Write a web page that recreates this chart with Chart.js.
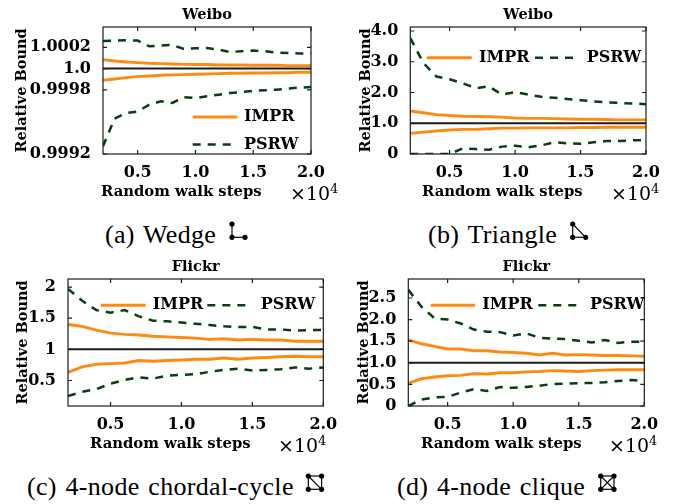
<!DOCTYPE html>
<html>
<head>
<meta charset="utf-8">
<script src="https://cdn.jsdelivr.net/npm/chart.js@4"></script>
<style>
html,body{margin:0;padding:0;background:#fff;width:690px;height:504px;overflow:hidden}
canvas{position:absolute;display:block}
.t{position:absolute;white-space:nowrap;color:#000}
.cap{font:26px "Liberation Serif","Times New Roman",serif;word-spacing:2px;letter-spacing:.3px;line-height:28px}
.exp{font:19px "DejaVu Serif",serif;line-height:20px}
.exp sup{font-size:13px;line-height:0;vertical-align:7px}
svg{position:absolute;left:0;top:0}
</style>
</head>
<body>
<canvas id="a" width="345" height="205" style="left:0;top:0"></canvas>
<canvas id="b" width="345" height="205" style="left:345px;top:0"></canvas>
<canvas id="c" width="345" height="205" style="left:0;top:252px"></canvas>
<canvas id="d" width="345" height="205" style="left:345px;top:252px"></canvas>
<div class="t exp" style="left:290px;top:183px">×10<sup>4</sup></div>
<div class="t exp" style="left:611px;top:183px">×10<sup>4</sup></div>
<div class="t exp" style="left:278px;top:435px">×10<sup>4</sup></div>
<div class="t exp" style="left:609px;top:435px">×10<sup>4</sup></div>
<div class="t cap" style="left:105px;top:221px">(a) Wedge</div>
<div class="t cap" style="left:428px;top:221px">(b) Triangle</div>
<div class="t cap" style="left:27px;top:473px">(c) 4-node chordal-cycle</div>
<div class="t cap" style="left:397px;top:473px">(d) 4-node clique</div>
<svg width="690" height="504" id="icons"></svg>
<script>
const xSteps=[0.2,0.3,0.4,0.5,0.6,0.7,0.8,0.9,1.0,1.1,1.2,1.3,1.4,1.5,1.6,1.7,1.8,1.9,2.0];
const xTicks=[0.5,1.0,1.5,2.0];
const seriesNames=["IMPR","PSRW"];
const xTitle="Random walk steps";
const yTitle="Relative Bound";

const aTitle="Weibo";
const aYTicks=[0.9992,0.9998,1.0,1.0002];
const aYLabels=["0.9992","0.9998","1.0","1.0002"];
const aImprUp=[1.000084,1.000072,1.000062,1.000056,1.00005,1.000047,1.000044,1.00004,1.000038,1.000038,1.000034,1.000034,1.000034,1.000031,1.000031,1.000031,1.000028,1.000028,1.000028];
const aImprLo=[0.999891,0.999903,0.999916,0.999925,0.999931,0.999938,0.999941,0.999944,0.999947,0.99995,0.999953,0.999956,0.999956,0.999959,0.999959,0.999962,0.999962,0.999966,0.999966];
const aPsrwUp=[1.000259,1.000263,1.000266,1.000263,1.000209,1.000216,1.000222,1.000184,1.000191,1.000194,1.000178,1.000156,1.000163,1.000169,1.000163,1.00015,1.000147,1.000141,1.000144];
const aPsrwLo=[0.999272,0.999531,0.999584,0.999597,0.999662,0.999694,0.999678,0.999731,0.999725,0.999741,0.999756,0.999772,0.999781,0.999791,0.999797,0.999803,0.999812,0.999822,0.999828];

const bTitle="Weibo";
const bYTicks=[0,1,2,3,4];
const bYLabels=["0","1.0","2.0","3.0","4.0"];
const bImprUp=[1.40,1.34,1.28,1.25,1.23,1.22,1.21,1.20,1.17,1.16,1.16,1.15,1.14,1.13,1.13,1.12,1.11,1.11,1.11];
const bImprLo=[0.67,0.71,0.75,0.78,0.80,0.80,0.82,0.84,0.84,0.85,0.85,0.85,0.85,0.86,0.86,0.87,0.87,0.87,0.87];
const bPsrwUp=[3.77,2.96,2.52,2.43,2.30,2.14,2.20,1.93,2.01,1.93,1.86,1.83,1.79,1.75,1.71,1.68,1.66,1.64,1.62];
const bPsrwLo=[0,0,0,0,0.18,0.16,0.14,0.24,0.27,0.22,0.28,0.38,0.35,0.33,0.38,0.42,0.42,0.45,0.45];

const cTitle="Flickr";
const cYTicks=[0.5,1,1.5,2];
const cYLabels=["0.5","1","1.5","2"];
const cImprUp=[1.40,1.37,1.31,1.26,1.24,1.23,1.21,1.20,1.19,1.18,1.16,1.17,1.15,1.16,1.15,1.15,1.13,1.13,1.13];
const cImprLo=[0.63,0.72,0.76,0.77,0.78,0.82,0.81,0.82,0.83,0.84,0.84,0.86,0.84,0.86,0.87,0.88,0.89,0.88,0.88];
const cPsrwUp=[1.97,1.78,1.63,1.59,1.63,1.53,1.46,1.45,1.43,1.41,1.39,1.37,1.36,1.36,1.32,1.32,1.30,1.31,1.31];
const cPsrwLo=[0.25,0.32,0.36,0.45,0.51,0.55,0.53,0.58,0.59,0.60,0.64,0.67,0.69,0.66,0.67,0.68,0.71,0.69,0.71];

const dTitle="Flickr";
const dYTicks=[0,0.5,1,1.5,2,2.5];
const dYLabels=["0","0.5","1.0","1.5","2.0","2.5"];
const dImprUp=[1.53,1.44,1.38,1.32,1.32,1.28,1.28,1.25,1.24,1.22,1.18,1.22,1.18,1.19,1.18,1.17,1.17,1.16,1.15];
const dImprLo=[0.53,0.63,0.67,0.70,0.71,0.75,0.74,0.77,0.77,0.79,0.80,0.82,0.81,0.80,0.82,0.83,0.84,0.84,0.84];
const dPsrwUp=[2.69,2.30,2.03,2.00,1.91,1.77,1.72,1.71,1.63,1.68,1.58,1.56,1.55,1.51,1.47,1.53,1.46,1.49,1.49];
const dPsrwLo=[0,0.15,0.20,0.21,0.31,0.39,0.35,0.44,0.42,0.44,0.47,0.51,0.52,0.53,0.53,0.55,0.58,0.60,0.58];

const ORANGE="#ff8a12", GREEN="#0b3d12", INK="#1c1c1c";
const BOLD='"DejaVu Serif"';

// layout of each panel (pixels inside its own canvas)
const layouts={
 a:{left:103,right:311,padL:15,min:0.9992,max:1.00039,xT:101,lg:[[192.7,237.3,117,244],[192.7,232,144.5,244]]},
 b:{left:65.3,right:301,padL:14,min:0,max:4.13,xT:77,lg:[[81.7,126.7,57.7,134],[190,230,57.7,241.7]]},
 c:{left:68,right:323.3,padL:16,min:0.09,max:2.13,xT:90,lg:[[100.7,145.7,53.3,152.7],[207.3,248.3,53.3,260.7]]},
 d:{left:63.3,right:299.3,padL:12,min:0,max:2.94,xT:76,lg:[[85.7,130,53.3,137.3],[193.3,233.3,53.3,245]]}
};

const frame={
 id:"frame",
 afterDatasetsDraw(ch){
  const {ctx,chartArea:A,scales:{x,y}}=ch, L=4;
  ctx.save();
  ctx.strokeStyle=INK; ctx.lineWidth=1.2;
  ctx.strokeRect(A.left,A.top,A.right-A.left,A.bottom-A.top);
  ctx.beginPath();
  x.ticks.forEach(t=>{const p=x.getPixelForValue(t.value);
    ctx.moveTo(p,A.top);ctx.lineTo(p,A.top+L);ctx.moveTo(p,A.bottom);ctx.lineTo(p,A.bottom-L);});
  y.ticks.forEach(t=>{const p=y.getPixelForValue(t.value);
    ctx.moveTo(A.left,p);ctx.lineTo(A.left+L,p);ctx.moveTo(A.right,p);ctx.lineTo(A.right-L,p);});
  ctx.stroke();
  // legend and offset x-axis title
  const o=ch.options.plugins.frame;
  ctx.fillStyle="#000"; ctx.textBaseline="middle"; ctx.textAlign="left";
  ctx.font='bold 16px '+BOLD;
  o.lg.forEach((r,i)=>{
    const ds=ch.data.datasets[i===0?1:3];
    ctx.save();ctx.strokeStyle=ds.borderColor;ctx.lineWidth=ds.borderWidth;ctx.setLineDash(ds.borderDash||[]);
    ctx.beginPath();ctx.moveTo(r[0],r[2]);ctx.lineTo(r[1],r[2]);ctx.stroke();ctx.restore();
    ctx.fillText(ds.label,r[3],r[2]);
  });
  ctx.font='bold 14.8px '+BOLD;
  ctx.fillText(xTitle,o.xT,192);
  ctx.restore();
 }
};

function build(id,title,yTicks,yLabels,iu,il,pu,pl){
 const g=layouts[id];
 const dash=[8,7];
 new Chart(document.getElementById(id),{
  type:"line",
  plugins:[frame],
  data:{datasets:[
   {label:"ref",data:[{x:0.2,y:1},{x:2,y:1}],borderColor:INK,borderWidth:2,pointRadius:0},
   {label:seriesNames[0],data:xSteps.map((x,i)=>({x,y:iu[i]})),borderColor:ORANGE,borderWidth:2.9,pointRadius:0,tension:0},
   {label:seriesNames[0]+" lower",data:xSteps.map((x,i)=>({x,y:il[i]})),borderColor:ORANGE,borderWidth:2.9,pointRadius:0,tension:0},
   {label:seriesNames[1],data:xSteps.map((x,i)=>({x,y:pu[i]})),borderColor:GREEN,borderWidth:2.5,borderDash:dash,pointRadius:0,tension:0},
   {label:seriesNames[1]+" lower",data:xSteps.map((x,i)=>({x,y:pl[i]})),borderColor:GREEN,borderWidth:2.5,borderDash:dash,pointRadius:0,tension:0}
  ]},
  options:{
   responsive:false,animation:false,devicePixelRatio:1,
   layout:{autoPadding:false,padding:{left:g.padL,right:345-g.right,top:0,bottom:0}},
   plugins:{
    legend:{display:false},tooltip:{enabled:false},
    title:{display:true,text:title,fullSize:false,color:"#000",font:{family:BOLD,size:14.5,weight:"bold",lineHeight:1},padding:{top:8,bottom:4.5}},
    frame:{lg:g.lg,xT:g.xT}
   },
   scales:{
    x:{type:"linear",min:0.2,max:2.0,
     grid:{display:false},border:{display:false},
     afterBuildTicks(s){s.ticks=xTicks.map(v=>({value:v}));},
     afterFit(s){s.height=51;},
     ticks:{color:"#000",autoSkip:false,maxRotation:0,padding:3,font:{family:BOLD,size:16,weight:"bold",lineHeight:1},callback:v=>v.toFixed(1)}},
    y:{type:"linear",min:g.min,max:g.max,
     grid:{display:false},border:{display:false},
     afterBuildTicks(s){s.ticks=yTicks.map(v=>({value:v}));},
     afterFit(s){s.width=g.left-g.padL;},
     title:{display:true,text:yTitle,color:"#000",padding:0,font:{family:BOLD,size:14.5,weight:"bold",lineHeight:1}},
     ticks:{color:"#000",autoSkip:false,padding:4,font:{family:BOLD,size:16,weight:"bold",lineHeight:1},
      callback:v=>{const i=yTicks.findIndex(t=>Math.abs(t-v)<1e-9);return i<0?"":yLabels[i];}}}
   }
  }
 });
}
build("a",aTitle,aYTicks,aYLabels,aImprUp,aImprLo,aPsrwUp,aPsrwLo);
build("b",bTitle,bYTicks,bYLabels,bImprUp,bImprLo,bPsrwUp,bPsrwLo);
build("c",cTitle,cYTicks,cYLabels,cImprUp,cImprLo,cPsrwUp,cPsrwLo);
build("d",dTitle,dYTicks,dYLabels,dImprUp,dImprLo,dPsrwUp,dPsrwLo);

// small motif glyphs beside the captions
const NS="http://www.w3.org/2000/svg", svg=document.getElementById("icons");
function motif(ox,oy,nodes,edges){
 edges.forEach(e=>{const l=document.createElementNS(NS,"line");
  l.setAttribute("x1",ox+nodes[e[0]][0]);l.setAttribute("y1",oy+nodes[e[0]][1]);
  l.setAttribute("x2",ox+nodes[e[1]][0]);l.setAttribute("y2",oy+nodes[e[1]][1]);
  l.setAttribute("stroke","#000");l.setAttribute("stroke-width","1.2");svg.appendChild(l);});
 nodes.forEach(n=>{const c=document.createElementNS(NS,"circle");
  c.setAttribute("cx",ox+n[0]);c.setAttribute("cy",oy+n[1]);c.setAttribute("r","2.6");svg.appendChild(c);});
}
const sq=[[0,0],[13.3,0],[0,13.3],[13.3,13.3]];
motif(232,224,[[0,0],[0,13.3],[13,13.3]],[[0,1],[1,2]]);
motif(572.7,224,[[0,0],[0,13.3],[13,13.3]],[[0,1],[1,2],[0,2]]);
motif(308.3,476,sq,[[0,1],[0,2],[1,3],[2,3],[0,3]]);
motif(600.7,476,sq,[[0,1],[0,2],[1,3],[2,3],[0,3],[1,2]]);
</script>
</body>
</html>
